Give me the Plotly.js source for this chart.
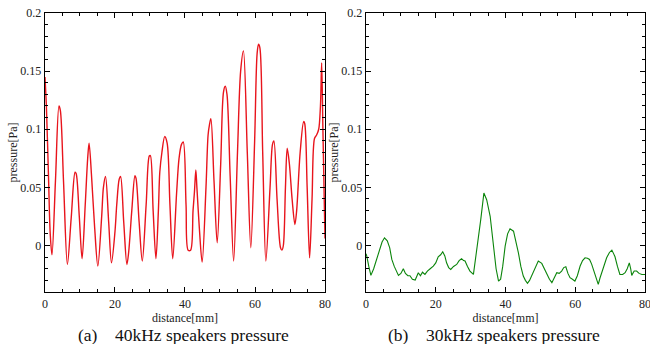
<!DOCTYPE html>
<html>
<head>
<meta charset="utf-8">
<script src="https://cdn.plot.ly/plotly-3.0.1.min.js"></script>
<style>html,body{margin:0;padding:0;background:#fff;}#chart{width:650px;height:344px;}</style>
</head>
<body>
<div id="chart"></div>
<script>
// 40 kHz speakers (a)
const distA = [0,0.4,1.0,1.5,2.0,3.0,4.0,4.4,5.3,6.4,7.5,8.6,8.9,9.8,10.6,11.5,12.2,12.6,13.3,14.2,15.1,16.2,16.7,17.3,18.2,19.0,20.0,20.5,21.2,21.6,22.5,23.4,23.9,24.8,25.7,26.0,26.9,27.8,28.9,29.8,30.1,30.9,31.7,32.4,32.8,33.4,34.2,34.9,35.7,36.5,37.6,38.3,39.0,39.5,40.3,40.9,41.6,42.3,42.7,43.1,43.4,44.1,44.9,46.0,46.6,47.0,47.4,48.3,49.2,50.2,51.0,51.5,52.0,52.9,53.9,55.0,55.9,56.7,57.8,58.8,59.9,60.6,61.0,61.4,62.2,63.1,64.3,65.0,65.4,66.3,67.3,67.7,68.1,68.7,69.2,69.8,70.6,71.4,71.9,72.9,73.9,74.2,74.9,75.6,76.3,77.0,77.6,78.2,78.7,79.05,79.4,80.0];
const pressA = [0.145,0.12,0.06,0.01,-0.008,0.056,0.12,0.116,0.055,-0.0163,0.024,0.063,0.062,0.025,-0.0114,0.035,0.075,0.088,0.06,0.015,-0.0177,0.025,0.05,0.0594,0.02,-0.0149,0.012,0.035,0.057,0.0594,0.02,-0.0163,-0.006,0.03,0.06,0.058,0.02,-0.0134,0.035,0.077,0.0774,0.03,-0.0114,0.03,0.063,0.08,0.0937,0.088,0.035,-0.0114,0.045,0.075,0.087,0.089,0.035,-0.004,-0.004,0.03,0.046,0.065,0.05,0.015,-0.0143,0.05,0.095,0.104,0.109,0.055,0.0023,0.07,0.132,0.137,0.13,0.06,-0.0134,0.08,0.15,0.1674,0.08,-0.002,0.09,0.165,0.1731,0.17,0.08,-0.0134,0.05,0.087,0.09,0.04,-0.002,-0.004,0.0,0.05,0.0837,0.071,0.04,0.018,0.03,0.08,0.1066,0.105,0.05,-0.0106,0.04,0.092,0.095,0.1,0.12,0.157,0.1,0.006];

// 30 kHz speakers (b)
const distB = [0,0.2,0.8,1.4,2.2,3.1,4.0,4.6,5.3,6.1,6.8,7.4,8.1,8.8,9.3,10.0,10.7,11.3,12.0,12.6,13.3,14.1,14.6,15.0,15.6,16.2,16.9,17.6,18.4,19.3,20.0,20.7,21.4,22.0,22.6,23.1,23.7,24.3,25.1,26.0,26.7,27.4,28.0,28.4,29.1,29.8,30.8,31.7,32.9,33.8,34.6,35.6,36.5,37.3,38.0,38.6,39.2,39.9,40.6,41.3,42.3,43.0,43.7,44.4,45.1,45.7,46.3,46.9,47.5,48.4,49.4,50.4,51.1,51.8,52.6,53.3,54.0,54.7,55.4,56.1,56.7,57.3,57.9,58.5,59.2,59.9,60.6,61.4,62.1,62.8,63.5,64.1,64.7,65.2,65.9,66.6,67.1,67.6,68.3,69.0,69.8,70.5,71.0,71.4,72.1,72.8,73.6,74.3,74.9,75.5,75.9,76.2,76.9,77.6,78.3,79.1,80.0];
const pressB = [-0.007,-0.009,-0.018,-0.0257,-0.02,-0.0114,-0.002,0.003,0.0066,0.004,-0.002,-0.012,-0.018,-0.022,-0.0257,-0.024,-0.02,-0.024,-0.026,-0.026,-0.029,-0.0297,-0.026,-0.0234,-0.026,-0.023,-0.0249,-0.022,-0.02,-0.0177,-0.015,-0.0097,-0.008,-0.0054,-0.009,-0.0149,-0.019,-0.0206,-0.018,-0.0163,-0.013,-0.0114,-0.013,-0.0134,-0.018,-0.022,-0.0249,-0.0063,0.0223,0.0451,0.0394,0.0251,-0.0006,-0.02,-0.0306,-0.029,-0.018,-0.0006,0.01,0.0143,0.0123,0.004,-0.0063,-0.018,-0.0263,-0.03,-0.0326,-0.03,-0.0263,-0.02,-0.0134,-0.0154,-0.02,-0.0249,-0.029,-0.032,-0.028,-0.0234,-0.024,-0.022,-0.019,-0.0183,-0.024,-0.0277,-0.029,-0.0306,-0.026,-0.0177,-0.013,-0.0106,-0.011,-0.012,-0.016,-0.0206,-0.027,-0.0334,-0.028,-0.0234,-0.016,-0.0106,-0.006,-0.004,-0.007,-0.0097,-0.018,-0.0249,-0.025,-0.0234,-0.02,-0.0149,-0.02,-0.0257,-0.022,-0.022,-0.024,-0.0249,-0.0249];

const xTicks = [0,20,40,60,80];
const captions = ["(a)\u00a0\u00a0\u00a0\u00a040kHz speakers pressure", "(b)\u00a0\u00a0\u00a0\u00a030kHz speakers pressure"];

const serif = "Times New Roman";

function xax(domain){
  return {
    domain: domain, range: [0,80], tickvals: xTicks, ticktext: xTicks.map(String),
    showline: true, linecolor: '#000', linewidth: 1.3, mirror: 'ticks',
    ticks: 'inside', ticklen: 5, tickwidth: 1, tickcolor: '#000',
    minor: {dtick: 5, tick0: 0, ticks: 'inside', ticklen: 3, tickcolor: '#000', tickwidth: 1, showgrid: false},
    showgrid: false, zeroline: false, ticklabeloverflow: 'allow',
    tickfont: {family: serif, size: 12, color: '#222'},
    title: {text: 'distance[mm]', font: {family: serif, size: 12, color: '#222'}, standoff: 4}
  };
}
function yax(anchor){
  return {
    domain: [0.1512, 0.9622], range: [-0.04, 0.2], dtick: 0.05, tick0: 0, anchor: anchor,
    showline: true, linecolor: '#000', linewidth: 1.3, mirror: 'ticks',
    ticks: 'inside', ticklen: 5, tickwidth: 1, tickcolor: '#000',
    minor: {dtick: 0.01, tick0: 0, ticks: 'inside', ticklen: 3, tickcolor: '#000', tickwidth: 1, showgrid: false},
    showgrid: false, zeroline: false, ticklabeloverflow: 'allow',
    tickfont: {family: serif, size: 12, color: '#222'},
    title: {text: 'pressure[Pa]', font: {family: serif, size: 12, color: '#222'}, standoff: 0}
  };
}

const traces = [
  {x: distA, y: pressA, xaxis: 'x', yaxis: 'y', mode: 'lines', line: {color: '#e8141c', width: 1.4, shape: 'spline', smoothing: 0.9}, hoverinfo: 'skip'},
  {x: distB, y: pressB, xaxis: 'x2', yaxis: 'y2', mode: 'lines', line: {color: '#0a840a', width: 1.1, shape: 'linear'}, hoverinfo: 'skip'}
];

const layout = {
  width: 650, height: 344, margin: {l: 0, r: 0, t: 0, b: 0},
  paper_bgcolor: '#fff', plot_bgcolor: '#fff', showlegend: false,
  font: {family: serif},
  xaxis: Object.assign(xax([0.0692, 0.5]), {anchor: 'y'}),
  yaxis: yax('x'),
  xaxis2: Object.assign(xax([0.5631, 0.9923]), {anchor: 'y2'}),
  yaxis2: yax('x2'),
  annotations: [
    {text: captions[0], xref: 'paper', yref: 'paper', x: 0.282, y: 0.027, xanchor: 'center', yanchor: 'middle', showarrow: false, font: {family: serif, size: 17.5, color: '#111'}},
    {text: captions[1], xref: 'paper', yref: 'paper', x: 0.76, y: 0.027, xanchor: 'center', yanchor: 'middle', showarrow: false, font: {family: serif, size: 17.5, color: '#111'}}
  ]
};

Plotly.newPlot('chart', traces, layout, {staticPlot: true, displayModeBar: false});
</script>
</body>
</html>
